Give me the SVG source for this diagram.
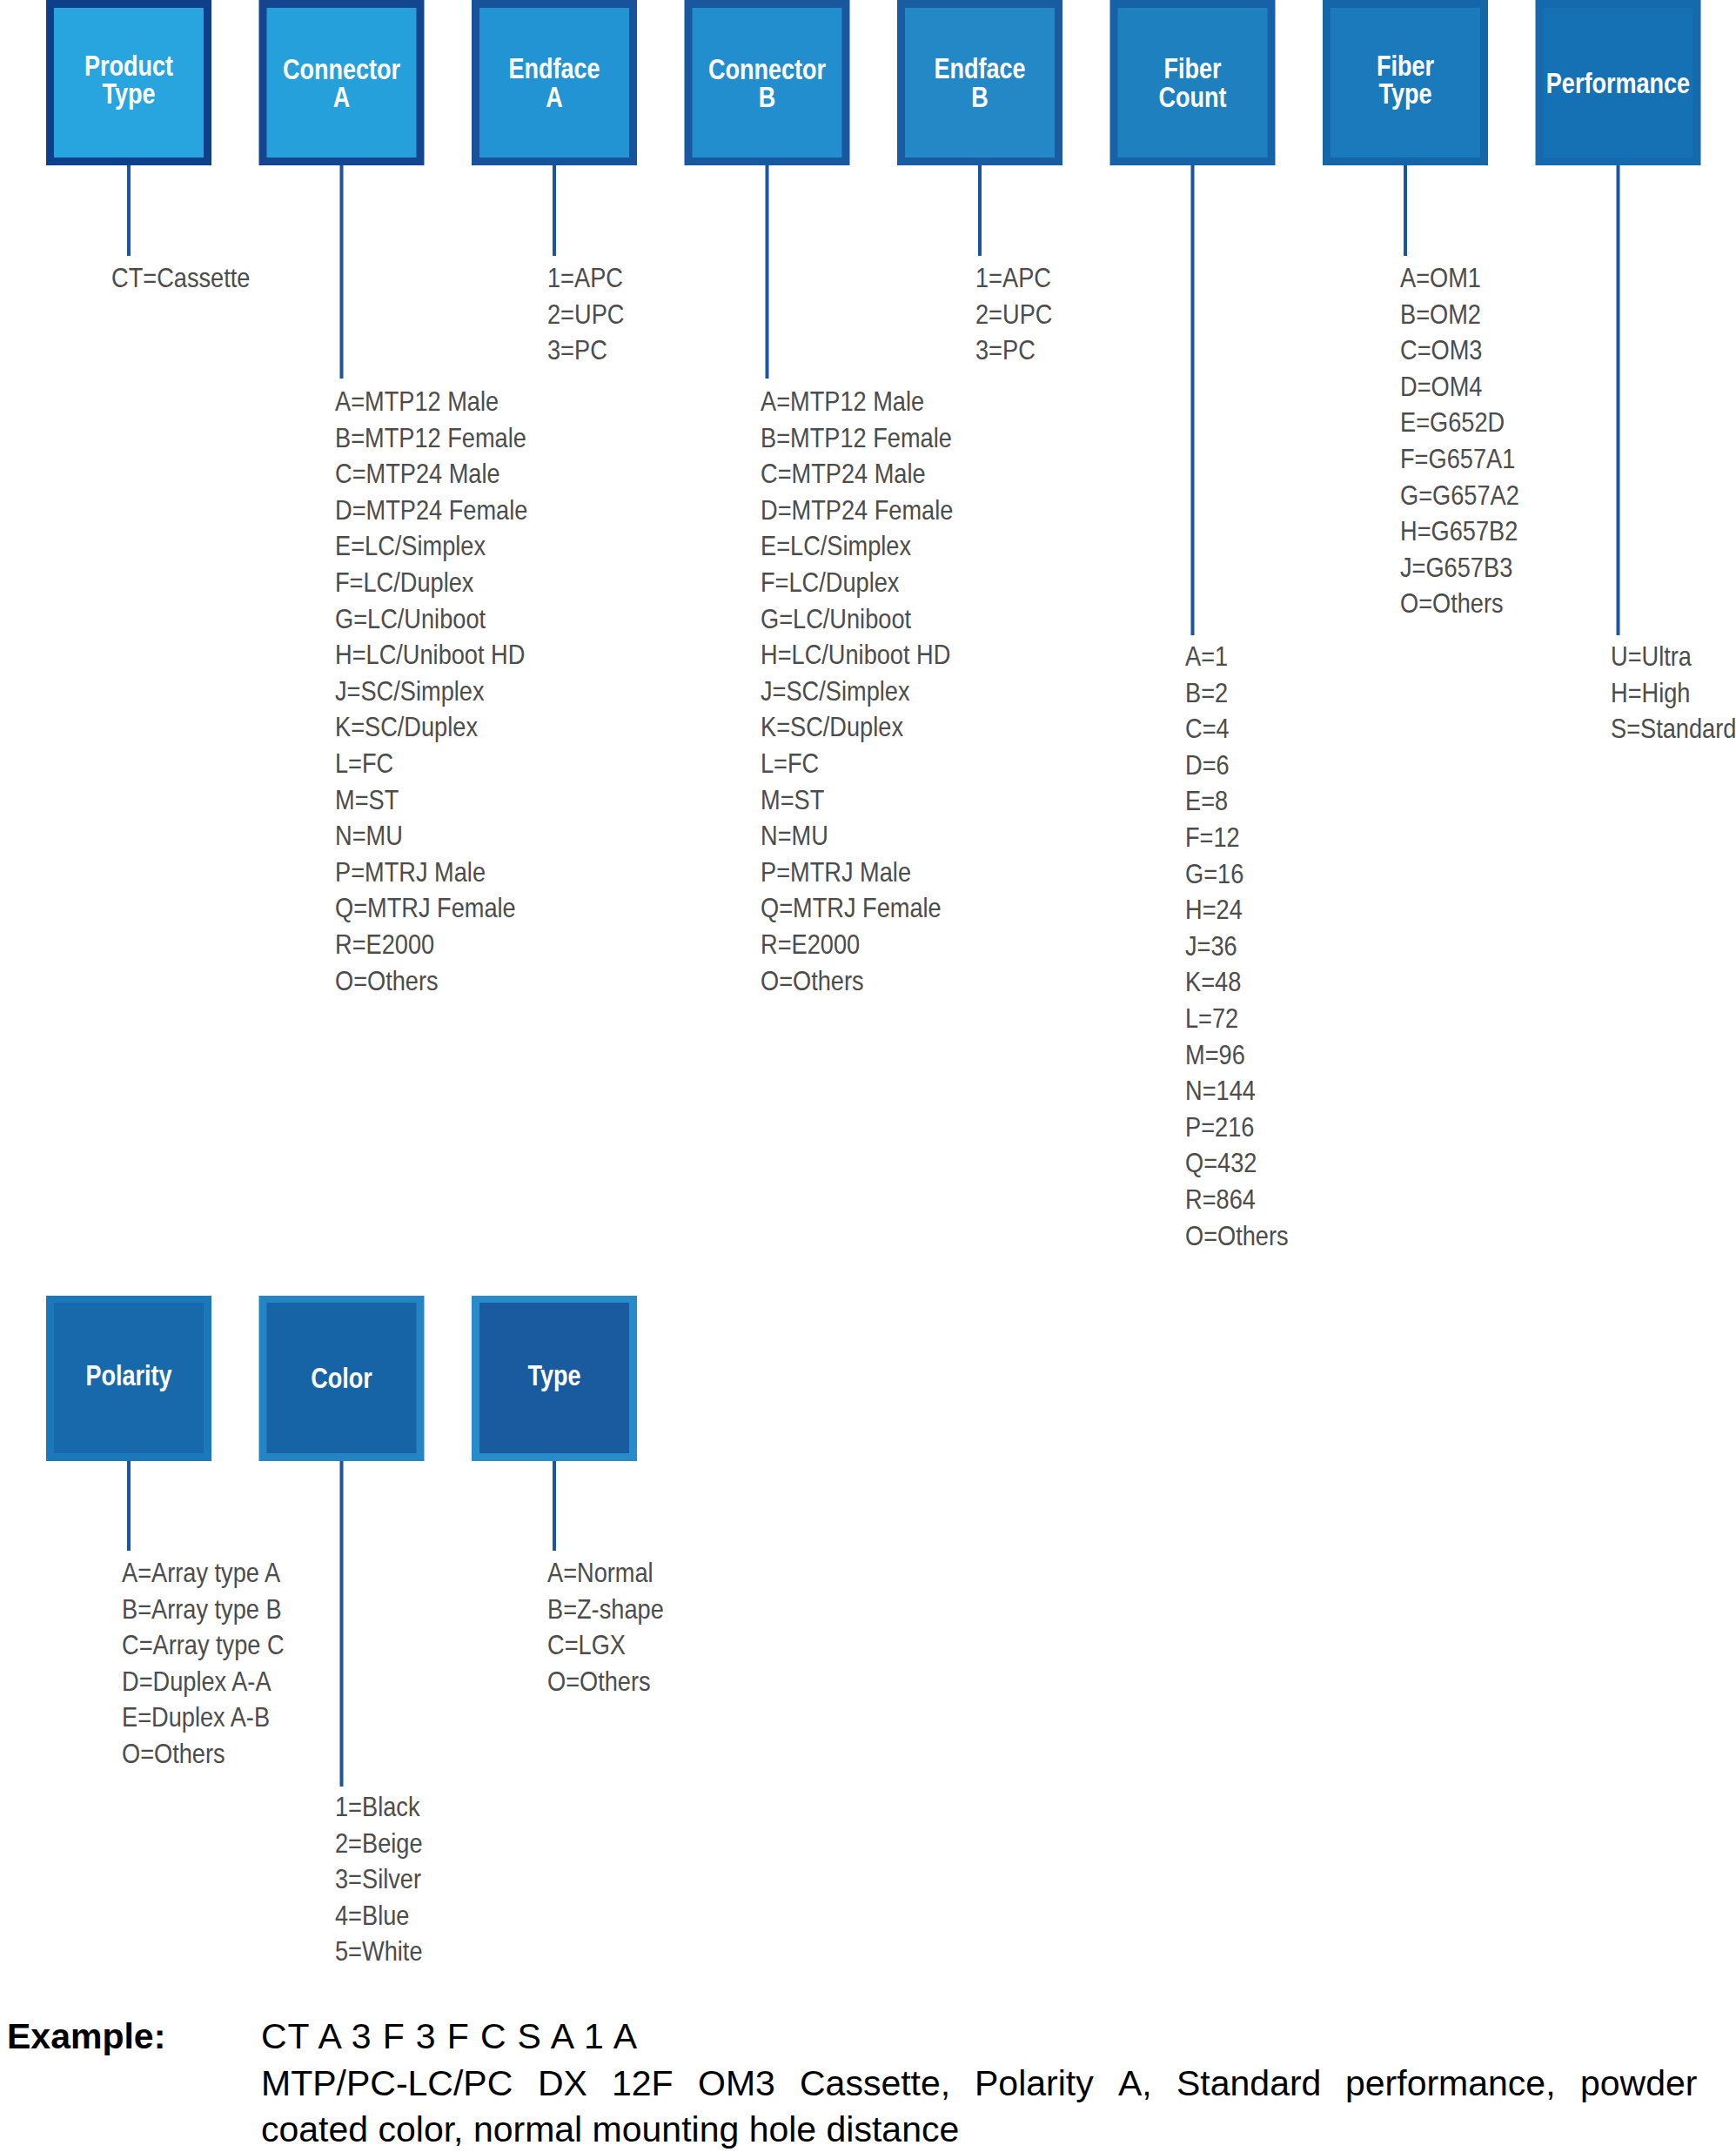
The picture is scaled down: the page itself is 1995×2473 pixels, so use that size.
<svg xmlns="http://www.w3.org/2000/svg" width="1995" height="2473" viewBox="0 0 1995 2473">
<style>
.lbl{font-family:"Liberation Sans",Arial,sans-serif;font-weight:bold;font-size:33px;fill:#ffffff;text-anchor:middle}
.opt{font-family:"Liberation Sans",Arial,sans-serif;font-size:32px;fill:#4c4c4c}
.conn{stroke:#1a55a0;stroke-width:4;fill:none}
.ex{font-family:"Liberation Sans",Arial,sans-serif;font-size:41px;fill:#000000}
.exb{font-family:"Liberation Sans",Arial,sans-serif;font-size:41px;font-weight:bold;fill:#000000}
</style>
<rect x="0" y="0" width="1995" height="2473" fill="#ffffff"/>
<g id="connectors">
<line class="conn" x1="148" y1="189" x2="148" y2="294"/>
<line class="conn" x1="392.5" y1="189" x2="392.5" y2="435"/>
<line class="conn" x1="637" y1="189" x2="637" y2="294"/>
<line class="conn" x1="881.5" y1="189" x2="881.5" y2="435"/>
<line class="conn" x1="1126" y1="189" x2="1126" y2="294"/>
<line class="conn" x1="1370.5" y1="189" x2="1370.5" y2="730"/>
<line class="conn" x1="1615" y1="189" x2="1615" y2="294"/>
<line class="conn" x1="1859.5" y1="189" x2="1859.5" y2="730"/>
<line class="conn" x1="148" y1="1678" x2="148" y2="1782"/>
<line class="conn" x1="392.5" y1="1678" x2="392.5" y2="2053"/>
<line class="conn" x1="637" y1="1678" x2="637" y2="1782"/>
</g>
<g id="product-type">
<rect x="53" y="0" width="190" height="190" fill="#0e3f8b"/>
<rect x="62" y="9" width="172" height="172" fill="#28a4de"/>
<text class="lbl" transform="translate(148,87) scale(0.82,1)">Product</text>
<text class="lbl" transform="translate(148,119) scale(0.82,1)">Type</text>
<text class="opt" transform="translate(128,330) scale(0.85,1)">CT=Cassette</text>
</g>
<g id="connector-a">
<rect x="297.5" y="0" width="190" height="190" fill="#15458f"/>
<rect x="306.5" y="9" width="172" height="172" fill="#25a0db"/>
<text class="lbl" transform="translate(392.5,91) scale(0.82,1)">Connector</text>
<text class="lbl" transform="translate(392.5,123) scale(0.82,1)">A</text>
<text class="opt" transform="translate(385,472) scale(0.85,1)"><tspan x="0" y="0">A=MTP12 Male</tspan><tspan x="0" dy="41.6">B=MTP12 Female</tspan><tspan x="0" dy="41.6">C=MTP24 Male</tspan><tspan x="0" dy="41.6">D=MTP24 Female</tspan><tspan x="0" dy="41.6">E=LC/Simplex</tspan><tspan x="0" dy="41.6">F=LC/Duplex</tspan><tspan x="0" dy="41.6">G=LC/Uniboot</tspan><tspan x="0" dy="41.6">H=LC/Uniboot HD</tspan><tspan x="0" dy="41.6">J=SC/Simplex</tspan><tspan x="0" dy="41.6">K=SC/Duplex</tspan><tspan x="0" dy="41.6">L=FC</tspan><tspan x="0" dy="41.6">M=ST</tspan><tspan x="0" dy="41.6">N=MU</tspan><tspan x="0" dy="41.6">P=MTRJ Male</tspan><tspan x="0" dy="41.6">Q=MTRJ Female</tspan><tspan x="0" dy="41.6">R=E2000</tspan><tspan x="0" dy="41.6">O=Others</tspan></text>
</g>
<g id="endface-a">
<rect x="542" y="0" width="190" height="190" fill="#17529b"/>
<rect x="551" y="9" width="172" height="172" fill="#2394d3"/>
<text class="lbl" transform="translate(637,90) scale(0.82,1)">Endface</text>
<text class="lbl" transform="translate(637,123) scale(0.82,1)">A</text>
<text class="opt" transform="translate(629,330) scale(0.85,1)"><tspan x="0" y="0">1=APC</tspan><tspan x="0" dy="41.6">2=UPC</tspan><tspan x="0" dy="41.6">3=PC</tspan></text>
</g>
<g id="connector-b">
<rect x="786.5" y="0" width="190" height="190" fill="#19579e"/>
<rect x="795.5" y="9" width="172" height="172" fill="#238ecd"/>
<text class="lbl" transform="translate(881.5,91) scale(0.82,1)">Connector</text>
<text class="lbl" transform="translate(881.5,123) scale(0.82,1)">B</text>
<text class="opt" transform="translate(874,472) scale(0.85,1)"><tspan x="0" y="0">A=MTP12 Male</tspan><tspan x="0" dy="41.6">B=MTP12 Female</tspan><tspan x="0" dy="41.6">C=MTP24 Male</tspan><tspan x="0" dy="41.6">D=MTP24 Female</tspan><tspan x="0" dy="41.6">E=LC/Simplex</tspan><tspan x="0" dy="41.6">F=LC/Duplex</tspan><tspan x="0" dy="41.6">G=LC/Uniboot</tspan><tspan x="0" dy="41.6">H=LC/Uniboot HD</tspan><tspan x="0" dy="41.6">J=SC/Simplex</tspan><tspan x="0" dy="41.6">K=SC/Duplex</tspan><tspan x="0" dy="41.6">L=FC</tspan><tspan x="0" dy="41.6">M=ST</tspan><tspan x="0" dy="41.6">N=MU</tspan><tspan x="0" dy="41.6">P=MTRJ Male</tspan><tspan x="0" dy="41.6">Q=MTRJ Female</tspan><tspan x="0" dy="41.6">R=E2000</tspan><tspan x="0" dy="41.6">O=Others</tspan></text>
</g>
<g id="endface-b">
<rect x="1031" y="0" width="190" height="190" fill="#1a5ca2"/>
<rect x="1040" y="9" width="172" height="172" fill="#2487c6"/>
<text class="lbl" transform="translate(1126,90) scale(0.82,1)">Endface</text>
<text class="lbl" transform="translate(1126,123) scale(0.82,1)">B</text>
<text class="opt" transform="translate(1121,330) scale(0.85,1)"><tspan x="0" y="0">1=APC</tspan><tspan x="0" dy="41.6">2=UPC</tspan><tspan x="0" dy="41.6">3=PC</tspan></text>
</g>
<g id="fiber-count">
<rect x="1275.5" y="0" width="190" height="190" fill="#1762a6"/>
<rect x="1284.5" y="9" width="172" height="172" fill="#1f80c0"/>
<text class="lbl" transform="translate(1370.5,90) scale(0.82,1)">Fiber</text>
<text class="lbl" transform="translate(1370.5,123) scale(0.82,1)">Count</text>
<text class="opt" transform="translate(1362,765) scale(0.85,1)"><tspan x="0" y="0">A=1</tspan><tspan x="0" dy="41.6">B=2</tspan><tspan x="0" dy="41.6">C=4</tspan><tspan x="0" dy="41.6">D=6</tspan><tspan x="0" dy="41.6">E=8</tspan><tspan x="0" dy="41.6">F=12</tspan><tspan x="0" dy="41.6">G=16</tspan><tspan x="0" dy="41.6">H=24</tspan><tspan x="0" dy="41.6">J=36</tspan><tspan x="0" dy="41.6">K=48</tspan><tspan x="0" dy="41.6">L=72</tspan><tspan x="0" dy="41.6">M=96</tspan><tspan x="0" dy="41.6">N=144</tspan><tspan x="0" dy="41.6">P=216</tspan><tspan x="0" dy="41.6">Q=432</tspan><tspan x="0" dy="41.6">R=864</tspan><tspan x="0" dy="41.6">O=Others</tspan></text>
</g>
<g id="fiber-type">
<rect x="1520" y="0" width="190" height="190" fill="#1566a9"/>
<rect x="1529" y="9" width="172" height="172" fill="#1b7abb"/>
<text class="lbl" transform="translate(1615,87) scale(0.82,1)">Fiber</text>
<text class="lbl" transform="translate(1615,119) scale(0.82,1)">Type</text>
<text class="opt" transform="translate(1609,330) scale(0.85,1)"><tspan x="0" y="0">A=OM1</tspan><tspan x="0" dy="41.6">B=OM2</tspan><tspan x="0" dy="41.6">C=OM3</tspan><tspan x="0" dy="41.6">D=OM4</tspan><tspan x="0" dy="41.6">E=G652D</tspan><tspan x="0" dy="41.6">F=G657A1</tspan><tspan x="0" dy="41.6">G=G657A2</tspan><tspan x="0" dy="41.6">H=G657B2</tspan><tspan x="0" dy="41.6">J=G657B3</tspan><tspan x="0" dy="41.6">O=Others</tspan></text>
</g>
<g id="performance">
<rect x="1764.5" y="0" width="190" height="190" fill="#146aad"/>
<rect x="1773.5" y="9" width="172" height="172" fill="#1571b3"/>
<text class="lbl" transform="translate(1859.5,107) scale(0.82,1)">Performance</text>
<text class="opt" transform="translate(1851,765) scale(0.85,1)"><tspan x="0" y="0">U=Ultra</tspan><tspan x="0" dy="41.6">H=High</tspan><tspan x="0" dy="41.6">S=Standard</tspan></text>
</g>
<g id="polarity">
<rect x="53" y="1489" width="190" height="190" fill="#1b79bb"/>
<rect x="62" y="1497" width="172" height="173" fill="#1769ab"/>
<text class="lbl" transform="translate(148,1592) scale(0.82,1)">Polarity</text>
<text class="opt" transform="translate(140,1818) scale(0.85,1)"><tspan x="0" y="0">A=Array type A</tspan><tspan x="0" dy="41.6">B=Array type B</tspan><tspan x="0" dy="41.6">C=Array type C</tspan><tspan x="0" dy="41.6">D=Duplex A-A</tspan><tspan x="0" dy="41.6">E=Duplex A-B</tspan><tspan x="0" dy="41.6">O=Others</tspan></text>
</g>
<g id="color">
<rect x="297.5" y="1489" width="190" height="190" fill="#2484c4"/>
<rect x="306.5" y="1497" width="172" height="173" fill="#1664a6"/>
<text class="lbl" transform="translate(392.5,1595) scale(0.82,1)">Color</text>
<text class="opt" transform="translate(385,2087) scale(0.85,1)"><tspan x="0" y="0">1=Black</tspan><tspan x="0" dy="41.6">2=Beige</tspan><tspan x="0" dy="41.6">3=Silver</tspan><tspan x="0" dy="41.6">4=Blue</tspan><tspan x="0" dy="41.6">5=White</tspan></text>
</g>
<g id="type">
<rect x="542" y="1489" width="190" height="190" fill="#288bca"/>
<rect x="551" y="1497" width="172" height="173" fill="#1a5a9e"/>
<text class="lbl" transform="translate(637,1592) scale(0.82,1)">Type</text>
<text class="opt" transform="translate(629,1818) scale(0.85,1)"><tspan x="0" y="0">A=Normal</tspan><tspan x="0" dy="41.6">B=Z-shape</tspan><tspan x="0" dy="41.6">C=LGX</tspan><tspan x="0" dy="41.6">O=Others</tspan></text>
</g>
<g id="example">
<text class="exb" x="8" y="2354">Example:</text>
<text class="ex" x="300" y="2354" textLength="432" lengthAdjust="spacing">CT A 3 F 3 F C S A 1 A</text>
<text class="ex" y="2408"><tspan x="300">MTP/PC-LC/PC</tspan><tspan x="618">DX</tspan><tspan x="703">12F</tspan><tspan x="802">OM3</tspan><tspan x="919">Cassette,</tspan><tspan x="1120">Polarity</tspan><tspan x="1285">A,</tspan><tspan x="1352">Standard</tspan><tspan x="1546">performance,</tspan><tspan x="1816">powder</tspan></text>
<text class="ex" x="300" y="2461">coated color, normal mounting hole distance</text>
</g>
</svg>
